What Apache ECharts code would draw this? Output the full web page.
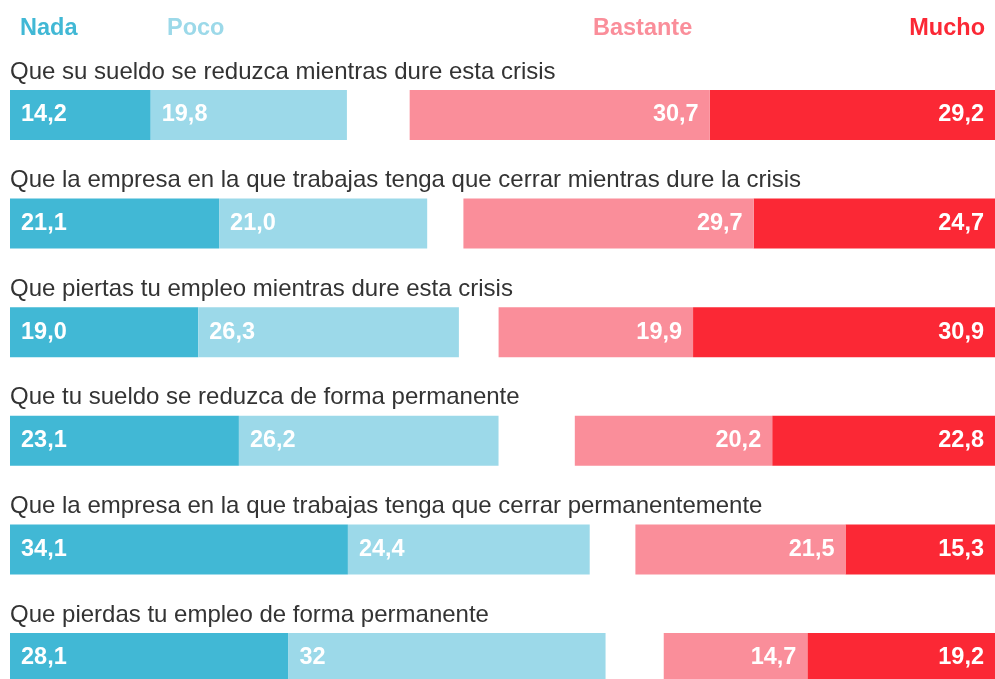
<!DOCTYPE html>
<html>
<head>
<meta charset="utf-8">
<script src="https://cdn.jsdelivr.net/npm/echarts@6/dist/echarts.min.js"></script>
<style>
  html, body { margin: 0; padding: 0; background: #fff; }
  #main { width: 995px; height: 679px; }
</style>
</head>
<body>
<div id="main"></div>
<script>
var chartDom = document.getElementById('main');
var myChart = echarts.init(chartDom);
var option;

// questions, top to bottom
const questions = [
    'Que su sueldo se reduzca mientras dure esta crisis',
    'Que la empresa en la que trabajas tenga que cerrar mientras dure la crisis',
    'Que piertas tu empleo mientras dure esta crisis',
    'Que tu sueldo se reduzca de forma permanente',
    'Que la empresa en la que trabajas tenga que cerrar permanentemente',
    'Que pierdas tu empleo de forma permanente'
];

// values as printed on the bars (comma decimals)
const nada     = ['14,2', '21,1', '19,0', '23,1', '34,1', '28,1'];
const poco     = ['19,8', '21,0', '26,3', '26,2', '24,4', '32'];
const bastante = ['30,7', '29,7', '19,9', '20,2', '21,5', '14,7'];
const mucho    = ['29,2', '24,7', '30,9', '22,8', '15,3', '19,2'];

const colors = {
    'Nada': '#41b8d5',
    'Poco': '#9cd9e9',
    'Bastante': '#fa8e9a',
    'Mucho': '#fb2835'
};

const fontFamily = "'Liberation Sans', Arial, sans-serif";
const fontSize = 23.5;

function toData(list) {
    return list.map(s => parseFloat(s.replace(',', '.')));
}

function makeSeries(name, list, axis, pos) {
    return {
        name: name,
        type: 'bar',
        stack: axis === 0 ? 'left' : 'right',
        xAxisIndex: axis,
        barWidth: 50,
        barGap: '-100%',
        clip: false,
        data: toData(list),
        itemStyle: { color: colors[name] },
        label: {
            show: true,
            position: pos,
            distance: 11,
            color: '#fff',
            fontWeight: 'bold',
            fontSize: fontSize,
            fontFamily: fontFamily,
            formatter: function (p) { return list[p.dataIndex]; }
        }
    };
}

function legendAt(name, place) {
    return Object.assign({
        data: [name],
        top: 17,
        padding: 0,
        icon: 'none',
        itemWidth: 0,
        itemGap: 0,
        selectedMode: false,
        textStyle: {
            color: colors[name],
            fontWeight: 'bold',
            fontSize: fontSize,
            fontFamily: fontFamily
        }
    }, place);
}

option = {
    animation: false,
    legend: [
        legendAt('Nada', { left: 15 }),
        legendAt('Poco', { left: 162 }),
        legendAt('Bastante', { left: 588 }),
        legendAt('Mucho', { right: 10 })
    ],
    // category ticks sit on the bar centres: first row at y=115, rows 108.6px apart
    grid: {
        left: 10,
        right: 0,
        top: 115,
        bottom: 21
    },
    // left block grows from the left edge, right block from the right edge
    xAxis: [
        { type: 'value', min: 0, max: 99.4, show: false },
        { type: 'value', min: 0, max: 100.8, show: false, inverse: true }
    ],
    yAxis: {
        type: 'category',
        inverse: true,
        boundaryGap: false,
        data: questions,
        axisLine: { show: false },
        axisTick: { show: false },
        splitLine: { show: false },
        axisLabel: {
            inside: true,
            margin: 0,
            align: 'left',
            verticalAlign: 'bottom',
            lineHeight: 86,
            color: '#333',
            fontSize: 24,
            fontFamily: fontFamily
        },
        z: 10
    },
    series: [
        makeSeries('Nada', nada, 0, 'insideLeft'),
        makeSeries('Poco', poco, 0, 'insideLeft'),
        makeSeries('Mucho', mucho, 1, 'insideRight'),
        makeSeries('Bastante', bastante, 1, 'insideRight')
    ]
};

myChart.setOption(option);
</script>
</body>
</html>
